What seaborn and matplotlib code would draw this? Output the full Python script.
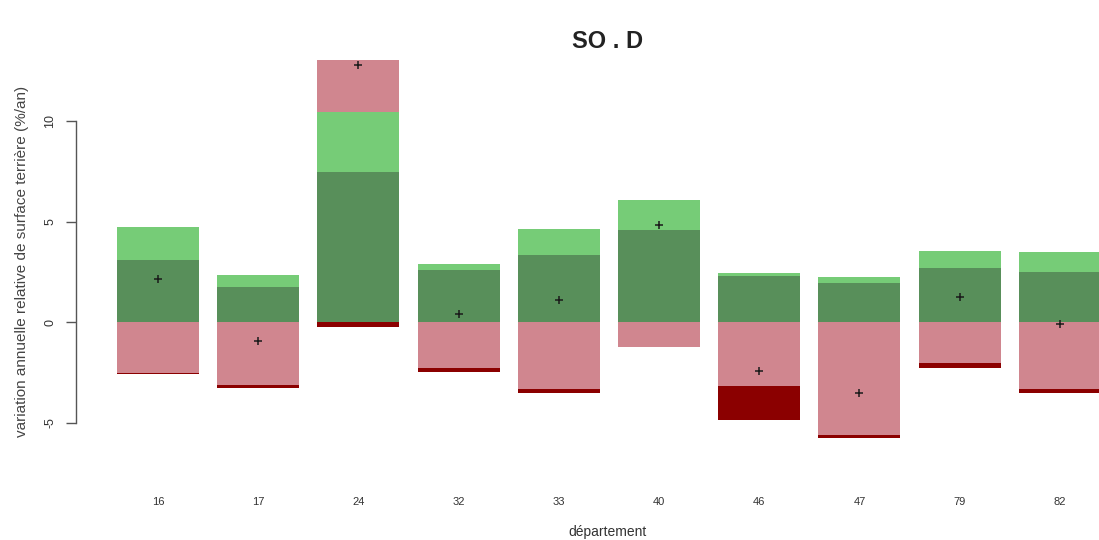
import numpy as np
import pandas as pd
import seaborn as sns
import matplotlib.pyplot as plt

# data (%/an)
departements = ['16', '17', '24', '32', '33', '40', '46', '47', '79', '82']
vert_fonce = [3.08, 1.76, 7.48, 2.59, 3.33, 4.58, 2.27, 1.96, 2.67, 2.47]
vert_clair = [1.66, 0.58, 2.98, 0.30, 1.30, 1.49, 0.15, 0.26, 0.86, 1.00]
rose = [-2.55, -3.13, 2.57, -2.30, -3.35, -1.26, -3.18, -5.62, -2.02, -3.35]
rouge_fonce = [-0.04, -0.17, -0.23, -0.17, -0.20, 0.0, -1.70, -0.14, -0.25, -0.20]

composantes = [vert_fonce, vert_clair, rose, rouge_fonce]
couleurs = ['#588f5a', '#76cc77', '#d0868f', '#8b0000']

sns.set_style('white')
plt.rcParams['font.family'] = ['Liberation Sans', 'DejaVu Sans']

W, H = 1099, 540
fig = plt.figure(figsize=(W / 100, H / 100), dpi=100)
# axes in pixel terms, wider than the figure on the right (cropped like the reference)
left, right, top, bottom = 76, 1139, 50.65, 472.75
ax = fig.add_axes([left / W, 1 - bottom / H, (right - left) / W, (bottom - top) / H])

# stack positives upward and negatives downward, in component order
pos_cum = np.zeros(len(departements))
neg_cum = np.zeros(len(departements))
for vals, col in zip(composantes, couleurs):
    vals = np.array(vals)
    base = np.where(vals >= 0, pos_cum, neg_cum)
    sns.barplot(x=departements, y=vals, bottom=base, order=departements,
                color=col, width=0.82, saturation=1, linewidth=0, ax=ax)
    pos_cum = pos_cum + np.clip(vals, 0, None)
    neg_cum = neg_cum + np.clip(vals, None, 0)

net = pos_cum + neg_cum
sns.stripplot(x=departements, y=net, order=departements, jitter=False,
              marker='+', color='#1a1a1a', size=6, linewidth=1.1, ax=ax, zorder=5)

ax.set_xlim((76 - 158) / 100.2, (1139 - 158) / 100.2)
ax.set_ylim(-7.5, 13.5)

for s in ['top', 'right', 'bottom']:
    ax.spines[s].set_visible(False)
ax.spines['left'].set_bounds(-5, 10)
ax.spines['left'].set_color('#555555')
ax.spines['left'].set_linewidth(1)

ax.set_yticks([-5, 0, 5, 10])
ax.set_yticklabels(['-5', '0', '5', '10'], rotation=90, va='center', fontsize=9, color='#333333')
ax.tick_params(axis='y', left=True, length=7, width=1, color='#555555', pad=7)
ax.tick_params(axis='x', bottom=False, labelsize=8, labelcolor='#333333', pad=14)

ax.set_xlabel('département', fontsize=10, color='#333333', labelpad=13)
ax.set_ylabel('variation annuelle relative de surface terrière (%/an)', fontsize=11,
              color='#444444', labelpad=11)
fig.text(608 / W, 1 - 42 / H, 'SO . D', ha='center', va='center',
         fontsize=17, fontweight='bold', color='#222222')

fig.savefig('out.png', dpi=100)
